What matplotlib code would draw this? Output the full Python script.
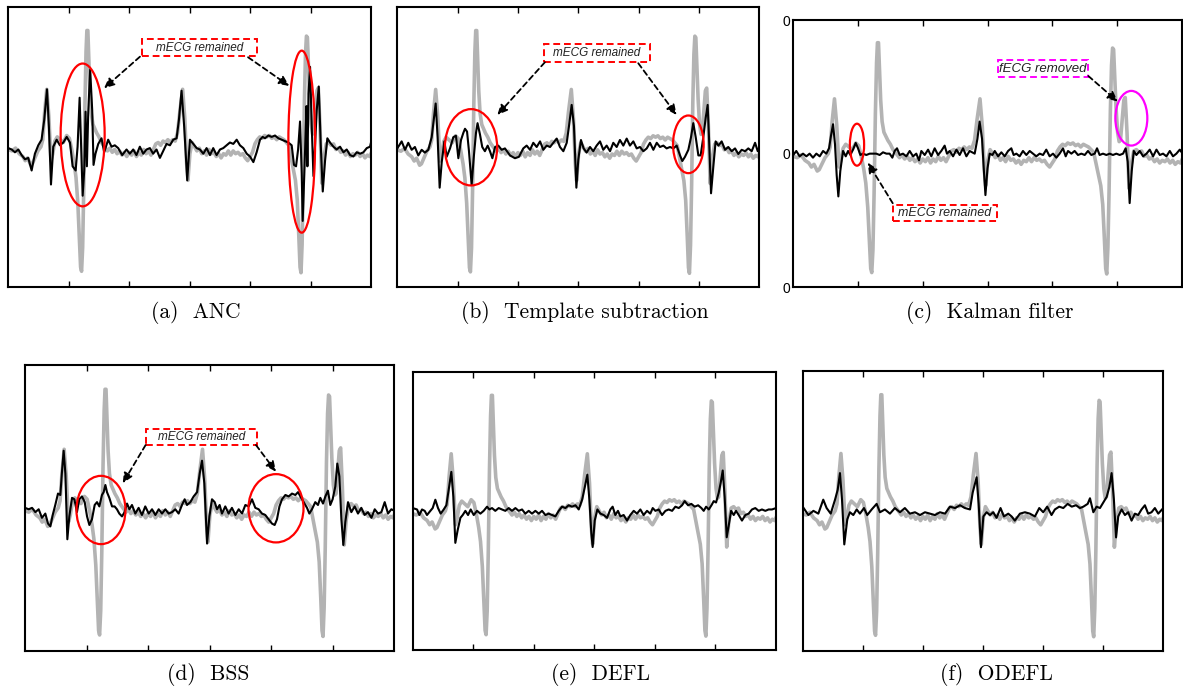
import matplotlib
matplotlib.use("Agg")
import matplotlib.pyplot as plt
from matplotlib.patches import Ellipse, Rectangle

# abdominal mixture (gray), shared by every panel: (time, amplitude) vertices
mix_t = ([0, 3, 6, 9, 12, 14, 16, 18.5, 20, 22, 24.5, 27, 28.5, 30, 31.8, 33.5, 35.3, 36.8,
          38.5, 40.5, 43, 45.5, 48.3, 50.5]
         + [52.5, 54.5, 56, 57.5, 58.8, 59.8, 60.6, 61.5, 62.4, 63.4, 64.3, 65.0, 65.8, 66.6,
            67.5, 68.6, 70, 71.5, 73, 75, 77, 79.5]
         + [82, 84, 86, 88, 90, 92, 94, 96, 98, 100, 102, 104, 106, 108, 110, 112, 114, 116,
            118, 120, 122, 124, 126, 128, 130, 132, 134, 136, 138, 140]
         + [142, 144.2, 146, 147.5, 148.6, 150.2, 152]
         + [154, 156, 158, 160, 162, 164, 166, 168, 170, 172, 174, 176, 178, 180, 182, 184,
            186, 188, 190, 192, 194, 196, 198, 200, 202, 204, 206, 208, 210, 212, 214, 216,
            218, 220, 222, 224, 226, 228, 230, 232]
         + [233.5, 235.5, 237.5, 239, 240.3, 241.3, 242.1, 243, 243.9, 244.9, 245.8, 246.6,
            247.4, 248.3, 249.3, 250.5, 251.7, 252.7, 254, 255.3, 256.4, 257.8, 259.3, 261]
         + [263, 265, 267, 269, 271, 273, 275, 277, 279, 281, 283, 285, 287, 289, 291, 293,
            295, 297, 299, 300])
mix_y = ([-0.02, -0.03, -0.01, -0.05, -0.07, -0.10, -0.08, -0.13, -0.12, -0.08, -0.03, 0.0,
          0.05, 0.24, 0.41, 0.22, -0.10, -0.05, 0.04, 0.07, 0.05, 0.03, 0.08, 0.06]
         + [-0.02, -0.12, -0.22, -0.40, -0.66, -0.86, -0.89, -0.72, -0.30, 0.30, 0.68, 0.83,
            0.83, 0.62, 0.40, 0.24, 0.16, 0.13, 0.10, 0.07, 0.03, 0.0]
         + [-0.03, -0.01, -0.04, -0.02, -0.05, -0.03, -0.06, -0.04, -0.07, -0.04, -0.06, -0.03,
            -0.07, -0.04, -0.06, -0.02, -0.05, -0.03, -0.06, -0.02, 0.02, 0.03, 0.01, 0.04,
            0.03, 0.05, 0.03, 0.05, 0.04, 0.10]
         + [0.26, 0.41, 0.20, -0.12, -0.24, -0.05, 0.03]
         + [0.0, -0.03, -0.01, -0.05, -0.03, -0.06, -0.02, -0.05, -0.04, -0.07, -0.05, -0.08,
            -0.05, -0.06, -0.03, -0.06, -0.03, -0.05, -0.04, -0.06, -0.05, -0.08, -0.10, -0.07,
            -0.04, 0.02, 0.05, 0.07, 0.06, 0.08, 0.07, 0.08, 0.06, 0.07, 0.05, 0.07, 0.06,
            0.05, 0.03, 0.01]
         + [-0.06, -0.15, -0.24, -0.38, -0.64, -0.86, -0.90, -0.70, -0.28, 0.32, 0.66, 0.79,
            0.78, 0.58, 0.34, 0.16, 0.09, 0.10, 0.25, 0.40, 0.42, 0.15, -0.26, -0.08]
         + [0.02, 0.03, 0.01, 0.02, -0.02, -0.01, -0.04, -0.03, -0.06, -0.04, -0.07, -0.05,
            -0.06, -0.04, -0.07, -0.05, -0.08, -0.06, -0.07, -0.05])

# (a) ANC
anc_t = [0, 2.8, 5.5, 8.3, 11, 13.8, 16.5, 19.3, 22, 24.8, 27.5, 29.7, 32, 33.6, 35.3, 37.2,
         40, 42.7, 45.5, 48.3, 51, 53.2, 55.7, 57.3, 59, 60.6, 61.5, 62.8, 63.9, 65, 66.1,
         67.7, 69.4, 70.5, 72.1, 74.4, 77.1, 79.3, 82.6, 85.4, 88.1, 90.9, 94.2, 97.8,
         100.5, 103.3, 106, 108.8, 111.6, 114.3, 117.1, 119.8, 122.6, 125.4, 128.1, 130.9,
         133.7, 136.4, 139.2, 141.1, 143.3, 145.5, 148, 150.2, 153, 155.8, 158.5, 161.3,
         164, 166.8, 169.5, 172.3, 175.1, 177.8, 180.6, 183.3, 186.1, 188.9, 191.6, 194.4,
         197.2, 199.9, 202.7, 205.4, 208.2, 210.4, 212.3, 215.1, 217.8, 220.6, 223.4, 226.1,
         228.9, 231.6, 234.4, 236.3, 238, 239.7, 241.3, 242.7, 243.5, 244.6, 245.5, 246.6,
         247.4, 248.3, 249.6, 251, 252.4, 253.8, 255.1, 256.8, 258.4, 260.1, 262, 263.9,
         266.1, 268.9, 271.6, 274.4, 277.2, 279.9, 282.7, 285.4, 288.2, 291, 293.7, 296.5,
         299.2, 300]
anc_y = [-0.01, -0.02, -0.04, -0.02, -0.06, -0.09, -0.08, -0.17, -0.05, 0.01, 0.05, 0.19,
         0.41, 0.14, -0.27, 0.0, 0.05, 0.01, 0.03, 0.07, 0.03, -0.14, -0.17, 0.0, 0.35,
         -0.09, -0.35, -0.17, 0.25, -0.14, 0.24, 0.55, 0.26, -0.13, -0.05, 0.02, 0.06,
         -0.04, 0.05, 0.0, 0.01, -0.01, -0.06, -0.02, -0.05, -0.02, -0.06, 0.0, -0.05,
         -0.02, -0.01, -0.05, -0.02, -0.08, -0.03, 0.02, 0.01, 0.05, 0.06, 0.19, 0.40, 0.14,
         -0.24, 0.05, 0.02, -0.01, -0.02, -0.05, -0.01, -0.06, -0.01, -0.06, -0.02, -0.01,
         0.01, 0.03, 0.02, 0.05, 0.01, -0.01, -0.05, -0.07, -0.11, -0.04, 0.05, 0.07, 0.06,
         0.08, 0.07, 0.08, 0.06, 0.05, 0.04, 0.03, 0.01, -0.13, -0.14, -0.02, 0.18, -0.19,
         -0.53, -0.26, -0.02, 0.29, -0.14, 0.38, 0.57, 0.14, -0.21, 0.02, 0.26, 0.43, 0.02,
         -0.32, -0.10, 0.06, 0.03, 0.0, -0.02, 0.0, -0.04, -0.02, -0.06, -0.07, -0.04,
         -0.05, -0.04, -0.01, 0.0, 0.03]

# (b) template subtraction
ts_t = [0, 3.6, 6.4, 9.1, 11.9, 14.6, 17.4, 20.2, 22.9, 25.7, 28.5, 31.8, 33.4, 35.1, 36.8,
        39, 40.9, 43.7, 46.4, 48.6, 50.6, 52.8, 54.7, 56.1, 57.8, 59.4, 61.6, 63.3, 65.2,
        66.5, 68.5, 70.4, 72.6, 74.9, 76.8, 78.8, 81, 83.7, 86.5, 89.2, 93.4, 97.5, 100.8,
        104.4, 107.2, 110, 112.7, 115.5, 118.3, 121, 123.8, 126.6, 129.3, 132.1, 134.8,
        137.6, 140.4, 142.3, 144.5, 146.4, 148.4, 150, 152.2, 154.4, 156.9, 159.7, 162.4,
        165.2, 168, 170.7, 173.5, 176.3, 179, 181.8, 184.5, 187.3, 190.1, 192.8, 195.6,
        198.4, 201.1, 203.9, 206.7, 209.4, 212.2, 215, 217.7, 220.5, 223.2, 226, 228.8,
        231.5, 234.3, 236.2, 238.4, 241.2, 243.4, 245.3, 247.3, 249.5, 251.4, 253.6, 255.6,
        257.2, 258.3, 260, 261.9, 263.8, 266.1, 268.8, 271.6, 274.3, 277.1, 279.9, 282.6,
        285.4, 288.2, 290.9, 293.7, 296.5, 298.7, 300]
ts_y = [-0.01, 0.04, -0.02, 0.03, -0.02, 0.0, -0.06, -0.02, -0.04, -0.02, 0.07, 0.31, 0.07,
        -0.29, -0.11, 0.04, -0.07, -0.01, 0.07, 0.08, -0.08, 0.05, 0.10, 0.13, 0.11, -0.03,
        -0.27, -0.08, 0.10, 0.17, 0.09, 0.0, -0.03, 0.01, -0.03, -0.08, 0.0, 0.01, -0.02,
        -0.01, -0.06, -0.08, -0.07, -0.01, 0.01, -0.02, 0.03, 0.0, 0.04, -0.02, 0.01, 0.0,
        0.03, 0.06, 0.0, -0.03, 0.03, 0.15, 0.30, 0.15, -0.29, -0.09, 0.05, -0.01, -0.04,
        0.0, -0.03, 0.01, 0.04, -0.02, 0.01, -0.03, 0.03, 0.0, 0.05, 0.01, 0.06, 0.01,
        0.04, -0.01, 0.0, -0.03, -0.01, 0.03, -0.02, 0.03, 0.0, 0.01, -0.01, 0.0, -0.01,
        0.01, -0.06, -0.10, -0.07, -0.02, 0.07, 0.17, 0.07, -0.06, -0.06, 0.07, 0.21, 0.30,
        0.07, -0.33, -0.14, 0.04, 0.01, 0.04, -0.02, 0.0, -0.03, -0.01, -0.05, -0.02, -0.03,
        -0.01, -0.03, 0.03, -0.03, 0.0]

# (c) Kalman filter
kf_t = [0, 2.3, 4.9, 7.5, 10.1, 12.6, 15.2, 17.8, 20.4, 23, 25.5, 27.6, 29.2, 30.7, 32.2,
        33.5, 34.8, 36.3, 38.4, 40.5, 42.3, 44.1, 46.1, 48.2, 50, 51.8, 53.8, 56.4, 59,
        61.6, 64.1, 66.7, 69.3, 71.9, 74.4, 76.5, 78.3, 80.1, 82.2, 84.7, 87.3, 89.9, 92.5,
        95, 97.1, 98.9, 101.5, 104.1, 106.6, 109.2, 111.8, 114.3, 116.9, 118.7, 120.8,
        123.4, 126, 128.5, 131.1, 133.7, 136.2, 140.1, 142.2, 143.9, 145.8, 147.1, 148.4,
        150, 151.7, 153.8, 155.6, 158.2, 160.7, 163.3, 165.9, 168.4, 170.2, 172.3, 174.8,
        177.4, 180, 182.6, 185.1, 187.7, 190.3, 192.9, 195.4, 198, 200.6, 203.2, 205.7,
        208.3, 210.4, 212.2, 214.8, 217.3, 219.9, 222.5, 225.1, 227.6, 230.2, 232.8, 234.6,
        236.6, 239.2, 241.8, 244.4, 246.9, 249.5, 252.1, 254.7, 256.7, 258.3, 259.8, 261.4,
        263, 265, 267.6, 270.2, 272.8, 275.3, 277.9, 280.5, 283.1, 285.6, 288.2, 290.8,
        293.3, 295.9, 298.5, 300]
kf_y = [-0.01, 0.02, -0.02, 0.0, -0.02, 0.0, -0.03, 0.0, -0.02, 0.02, 0.0, 0.04, 0.14, 0.22,
        0.07, -0.16, -0.32, -0.13, 0.02, -0.02, 0.02, -0.01, 0.03, 0.08, 0.04, -0.01, 0.0,
        -0.01, 0.0, 0.0, 0.0, -0.01, 0.01, 0.0, 0.0, -0.03, 0.02, 0.04, -0.01, 0.0, -0.02,
        0.02, -0.02, 0.0, -0.05, 0.02, -0.01, 0.03, -0.02, 0.04, -0.01, 0.02, 0.06, 0.0,
        0.02, -0.02, 0.03, -0.01, 0.04, -0.02, 0.02, 0.0, 0.11, 0.24, 0.11, -0.11, -0.31,
        -0.11, 0.0, -0.01, 0.02, -0.02, 0.01, -0.02, 0.02, 0.04, -0.01, 0.0, -0.02, 0.02,
        -0.01, 0.02, 0.0, -0.02, 0.0, -0.01, 0.03, -0.02, 0.0, -0.03, 0.0, 0.04, -0.02,
        0.02, 0.0, 0.02, -0.01, 0.0, -0.01, 0.02, -0.01, 0.0, 0.04, -0.01, 0.0, -0.01, 0.0,
        -0.01, 0.0, -0.01, 0.0, 0.04, -0.06, -0.37, -0.13, 0.02, -0.01, 0.02, -0.02, 0.0,
        0.03, -0.02, 0.03, -0.01, 0.0, -0.02, 0.02, -0.02, 0.0, 0.03, 0.01]

# (d) BSS
bss_t = [0, 3, 5.7, 8.4, 11.1, 13.8, 16.5, 18.7, 20.6, 22.5, 24.6, 26.8, 28.7, 30.1, 31.4,
         32.8, 34.4, 36, 38.2, 40.1, 42.2, 44.1, 46.3, 48.5, 50.4, 52.3, 54.4, 56.6, 58.5,
         60.4, 62.5, 63.9, 65.3, 66.6, 68.5, 70.7, 72.8, 74.7, 76.6, 78.8, 80.9, 82.9, 84.8,
         86.9, 89.6, 92.3, 95, 97.7, 100.5, 103.2, 105.9, 108.6, 111.3, 114, 116.7, 119.4,
         122.1, 124.8, 127.5, 129.7, 131.6, 134.3, 137, 139.8, 141.9, 143.8, 145.7, 147.9,
         149.8, 151.9, 154.1, 156, 158.1, 160, 162.7, 165.4, 168.1, 170.9, 173.6, 176.3,
         179, 181.7, 184.4, 187.1, 189.8, 192.5, 195.2, 197.9, 200.6, 202.8, 204.7, 206.7,
         208.8, 211.5, 214.2, 216.9, 219.6, 221.8, 223.7, 226.4, 229.1, 231, 233.1, 235.8,
         238, 239.9, 242.1, 244, 246.1, 248, 249.9, 252.1, 253.7, 255.4, 257, 258.6, 260.2,
         262.4, 265.1, 267.8, 270.5, 273.2, 275.9, 278.6, 281.4, 284.1, 286.8, 289.5, 292.2,
         294.9, 297.6, 300]
bss_y = [0.0, -0.01, 0.0, -0.03, -0.01, -0.07, -0.04, -0.11, -0.13, -0.05, 0.02, 0.10, 0.09,
         0.26, 0.40, 0.24, -0.22, -0.06, 0.07, 0.06, -0.03, 0.06, 0.08, 0.04, -0.06, -0.12,
         -0.08, 0.02, 0.04, 0.01, 0.09, 0.11, 0.16, 0.11, 0.07, 0.01, 0.01, -0.01, -0.04,
         -0.06, -0.03, 0.03, -0.01, 0.02, -0.04, 0.0, -0.05, 0.01, -0.04, -0.01, -0.05,
         -0.01, -0.04, -0.01, -0.04, -0.03, -0.01, -0.04, 0.02, 0.06, 0.02, 0.04, 0.08, 0.11,
         0.24, 0.33, 0.17, -0.25, -0.06, 0.06, 0.04, -0.01, 0.02, -0.04, 0.01, -0.04, 0.0,
         -0.05, -0.01, -0.04, 0.02, 0.01, 0.06, 0.0, -0.01, -0.04, -0.05, -0.08, -0.11,
         -0.12, -0.08, 0.01, 0.06, 0.09, 0.08, 0.10, 0.09, 0.11, 0.08, 0.04, 0.0, -0.04,
         -0.01, 0.04, 0.02, 0.07, 0.03, 0.08, 0.12, 0.02, 0.06, 0.15, 0.31, 0.22, -0.08,
         -0.26, -0.10, 0.04, -0.03, 0.01, -0.04, 0.0, -0.05, -0.03, -0.07, -0.01, -0.04,
         -0.03, 0.04, -0.04, -0.01, -0.02]

# (e) DEFL
defl_t = [0, 3.6, 5.5, 7.7, 9.9, 11.8, 14.6, 16.5, 18.7, 20.9, 23.1, 25.6, 27.8, 29.7, 31.9,
          33.6, 35.2, 37.1, 39.4, 41.3, 43.5, 45.7, 47.9, 50.4, 53.1, 55.9, 58.6, 61.4,
          63.3, 65.5, 68.2, 71, 73.7, 76.5, 79.3, 82, 84.8, 87.5, 90.3, 93, 95.8, 98.5,
          101.3, 104.1, 106.8, 109.6, 112.3, 115.1, 117.8, 120.6, 123.3, 126.1, 128.8,
          131.6, 134.4, 137.1, 139.9, 142.1, 144.2, 145.9, 147.5, 148.6, 150.3, 152.5, 155,
          157.7, 160.5, 163.2, 165.1, 167.3, 169.5, 171.5, 174.2, 177, 179.7, 182.5, 185.2,
          188, 190.7, 193.5, 196.2, 198.2, 200.4, 203.1, 205.9, 208.7, 211.4, 214.2, 216.9,
          219.7, 222.4, 224.6, 227.4, 230.1, 232.9, 235.7, 238.4, 240.3, 242.3, 244.5,
          246.7, 248.6, 250.5, 252.7, 254.3, 256, 257.6, 259.3, 260.9, 262.9, 265.1, 267,
          269.2, 271.9, 274.7, 277.4, 280.2, 282.9, 285.7, 288.4, 291.2, 293.9, 296.7, 300]
defl_y = [0.02, 0.01, -0.03, 0.01, 0.0, -0.03, 0.0, 0.02, 0.08, 0.02, -0.02, 0.01, 0.04, 0.15,
          0.28, 0.10, -0.23, -0.14, -0.05, -0.03, 0.0, -0.03, 0.01, -0.03, 0.0, -0.02, 0.0,
          0.03, 0.01, 0.02, 0.0, 0.02, 0.01, 0.0, 0.02, 0.0, 0.02, 0.0, 0.01, -0.02, 0.0,
          -0.02, 0.0, -0.02, 0.0, -0.03, -0.02, -0.03, -0.04, 0.0, 0.03, 0.02, 0.04, 0.03,
          0.04, 0.01, 0.08, 0.17, 0.26, 0.08, -0.16, -0.26, -0.07, 0.01, -0.02, -0.03, -0.05,
          0.01, 0.03, -0.03, 0.0, -0.04, -0.03, -0.07, -0.03, 0.0, -0.02, 0.01, -0.03, 0.0,
          -0.02, 0.02, 0.0, 0.01, -0.03, 0.0, 0.01, 0.0, 0.03, 0.02, 0.04, 0.07, 0.04, 0.05,
          0.03, 0.04, 0.02, 0.0, 0.03, 0.01, 0.04, 0.07, 0.06, 0.13, 0.20, 0.29, 0.10, -0.19,
          -0.11, 0.0, -0.03, 0.0, -0.03, -0.07, -0.03, -0.02, 0.01, 0.02, 0.0, 0.01, 0.0,
          0.01, 0.01, 0.02]

# (f) ODEFL
odefl_t = [0, 4.7, 8.9, 13, 17.1, 19.9, 23.3, 26.9, 29.1, 31, 32.7, 34.6, 37.1, 39.3, 42.1,
           44.9, 47.6, 51, 53.7, 57.4, 61.5, 64.3, 68.4, 72.6, 76.7, 80.9, 85, 89.2, 93.4,
           97.6, 101.7, 105.9, 110, 114.2, 118.4, 122.5, 126.7, 130.9, 135, 139.2, 141.4,
           144.7, 146.4, 148.3, 150.3, 153, 155.8, 158.5, 161.3, 164.6, 167.4, 171, 173.8,
           176.5, 180.7, 184.9, 189, 193.2, 196.8, 200.1, 203.4, 207, 209.8, 213.4, 216.8,
           220.4, 223.8, 227.4, 230.7, 233.5, 237.1, 239, 241.8, 244.5, 247.3, 250.1, 252.9,
           255.1, 257, 258.9, 260.7, 262.5, 265.3, 268.1, 270.8, 273.6, 276.4, 279.1, 281.9,
           284.7, 287.4, 290.2, 293, 295.8, 300]
odefl_y = [0.03, -0.03, 0.0, -0.02, 0.08, 0.02, -0.02, 0.08, 0.15, 0.27, 0.08, -0.24, -0.06,
           -0.01, -0.03, 0.01, -0.02, 0.02, -0.03, 0.01, 0.05, -0.01, 0.01, -0.02, 0.02,
           -0.01, 0.02, -0.02, -0.01, -0.03, -0.01, -0.02, -0.03, -0.01, -0.02, 0.03, 0.02,
           0.04, 0.02, 0.01, 0.13, 0.24, 0.05, -0.26, -0.04, -0.01, -0.03, -0.01, -0.05,
           0.02, -0.04, -0.02, -0.04, -0.07, -0.02, -0.01, -0.02, -0.04, 0.02, -0.01, 0.03,
           -0.03, 0.01, 0.03, 0.02, 0.05, 0.03, 0.04, 0.02, 0.03, 0.05, 0.09, -0.01, 0.03,
           0.02, 0.06, 0.10, 0.17, 0.27, 0.08, -0.19, -0.04, 0.01, -0.03, -0.01, -0.07, -0.02,
           -0.03, 0.01, 0.04, -0.02, -0.01, 0.02, -0.02, 0.02]

captions = ["(a)  ANC", "(b)  Template subtraction", "(c)  Kalman filter",
            "(d)  BSS", "(e)  DEFL", "(f)  ODEFL"]
outputs = [(anc_t, anc_y), (ts_t, ts_y), (kf_t, kf_y),
           (bss_t, bss_y), (defl_t, defl_y), (odefl_t, odefl_y)]

# axes rectangles in figure pixels: left, right, top, bottom
W, H = 1183, 691
boxes_px = [(8.3, 371, 6.7, 286.7), (397.3, 759.3, 6.7, 287.3), (793.3, 1181.7, 20, 287.3),
            (25, 394.3, 365, 650.7), (412.7, 776, 371.7, 650), (802.7, 1163.3, 371, 650.7)]
caption_px = [(196, 312), (585, 312), (990, 312), (208, 675), (601, 675), (996, 675)]

SANS = ["Liberation Sans", "DejaVu Sans"]


def note_box(ax, t0, t1, y0, y1, text, color, size=8.5):
    ax.add_patch(Rectangle((t0, y0), t1 - t0, y1 - y0, fill=False, ec=color,
                           ls=(0, (3.5, 2)), lw=1.4, zorder=5))
    ax.text((t0 + t1) / 2, (y0 + y1) / 2, text, ha="center", va="center",
            fontsize=size, style="italic", family=SANS, color="#222222", zorder=6)


def ring(ax, t, y, w, h, color):
    ax.add_patch(Ellipse((t, y), w, h, fill=False, ec=color, lw=1.6, zorder=5))


def pointer(ax, start, end):
    ax.annotate("", xy=end, xytext=start, zorder=6,
                arrowprops=dict(arrowstyle="-|>,head_length=0.6,head_width=0.28",
                                ls=(0, (3, 2)), color="black", lw=1.3,
                                shrinkA=0, shrinkB=0))


fig = plt.figure(figsize=(W / 100, H / 100), dpi=100)
axes = []
for k, (l, r, tp, bt) in enumerate(boxes_px):
    ax = fig.add_axes([l / W, 1 - bt / H, (r - l) / W, (bt - tp) / H])
    ax.plot(mix_t, mix_y, color="#b3b3b3", lw=2.6, solid_joinstyle="round")
    t, y = outputs[k]
    ax.plot(t, y, color="black", lw=1.5, solid_joinstyle="round")
    ax.set_xlim(0, 300)
    ax.set_ylim(-1, 1)
    ax.set_xticks([50, 100, 150, 200, 250])
    ax.set_xticklabels([])
    ax.tick_params(axis="x", direction="in", top=True, bottom=True, length=4, width=1)
    if k == 2:
        ax.set_yticks([-1, 0, 1])
        ax.set_yticklabels(["0", "0", "0"], family=SANS, fontsize=10)
        ax.tick_params(axis="y", length=0, pad=2)
    else:
        ax.set_yticks([])
    for s in ax.spines.values():
        s.set_linewidth(1.5)
    axes.append(ax)
    cx, cy = caption_px[k]
    fig.text(cx / W, 1 - cy / H, captions[k], ha="center", va="center",
             family="cmr10", fontsize=15.5)

# (a) annotations
ax = axes[0]
note_box(ax, 110.3, 205.5, 0.648, 0.767, "mECG remained", "red")
ring(ax, 61.5, 0.084, 36.4, 1.02, "red")
ring(ax, 242.7, 0.036, 22.1, 1.30, "red")
pointer(ax, (108.9, 0.643), (79.2, 0.417))
pointer(ax, (198.3, 0.639), (232.4, 0.434))

# (b) annotations
ax = axes[1]
note_box(ax, 121.6, 209.4, 0.604, 0.732, "mECG remained", "red")
ring(ax, 61.1, -0.002, 43.3, 0.544, "red")
ring(ax, 241.2, 0.019, 25.4, 0.411, "red")
pointer(ax, (122.3, 0.604), (82.9, 0.228))
pointer(ax, (199.7, 0.597), (231.5, 0.228))

# (c) annotations
ax = axes[2]
ring(ax, 49.2, 0.067, 11.0, 0.314, "red")
ring(ax, 261.1, 0.265, 24.7, 0.409, "magenta")
note_box(ax, 157.9, 227.9, 0.571, 0.701, "fECG removed", "magenta", size=9.5)
pointer(ax, (227.9, 0.581), (250.6, 0.389))
note_box(ax, 76.8, 157.6, -0.506, -0.381, "mECG remained", "red", size=9)
pointer(ax, (76.8, -0.371), (57.5, -0.067))

# (d) annotations
ax = axes[3]
note_box(ax, 98.0, 188.2, 0.440, 0.552, "mECG remained", "red")
ring(ax, 61.7, -0.015, 39.8, 0.478, "red")
ring(ax, 203.9, -0.003, 44.7, 0.478, "red")
pointer(ax, (98.0, 0.44), (79.4, 0.172))
pointer(ax, (187.6, 0.44), (203.9, 0.253))

fig.savefig("out.png", dpi=100)
